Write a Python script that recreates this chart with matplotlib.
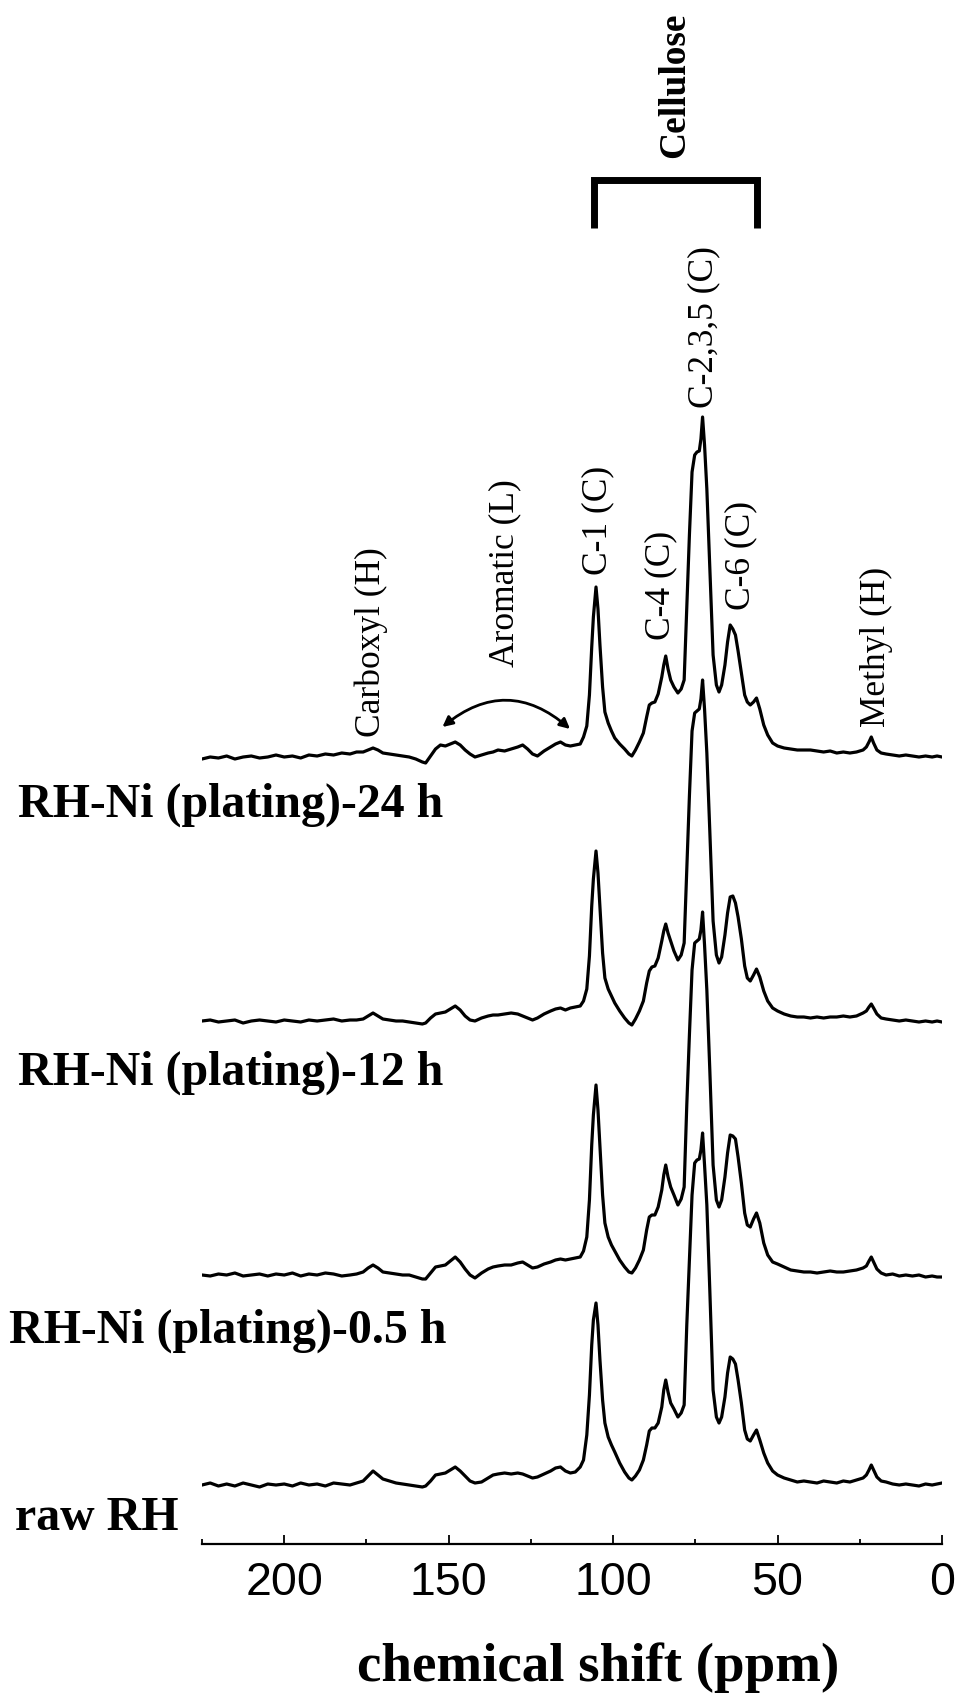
import matplotlib
matplotlib.use('Agg')
import matplotlib.pyplot as plt
import numpy as np

# chemical shift grid (ppm)
shift_ppm = [
    225, 222.5, 220, 217.5, 215, 212.5, 210, 207.5, 205, 202.5,
    200, 197.5, 195, 192.5, 190, 187.5, 185, 182.5, 180, 178,
    176, 174.5, 173, 171.5, 170, 168, 166, 164, 162, 160,
    158, 157, 155.5, 154, 152.5, 151, 149.5, 148, 146.5, 145,
    143.5, 142, 140, 138, 136.5, 135, 133, 131, 129, 127.5,
    126, 124.5, 123, 121, 119, 117.5, 116, 114.5, 113, 111.5,
    110, 109, 108, 107.2, 106.5, 106, 105.2, 104.6, 104, 103.2,
    102.5, 101.5, 100.5, 99.5, 98, 96.5, 95.2, 94.3, 93.2, 92,
    90.8, 89.8, 89, 88.2, 87.3, 86.3, 85.2, 84.6, 84, 83.3,
    82.5, 81.5, 80.3, 79.3, 78.4, 77.6, 76.8, 76, 75.2, 74.5,
    73.8, 73.3, 72.8, 72.2, 71.5, 70.6, 69.6, 68.6, 67.8, 67,
    66, 65.2, 64.4, 63.6, 62.8, 62, 61, 60, 59.2, 58.3,
    57.3, 56.4, 55.4, 54.2, 53, 51.5, 50, 48, 46, 44,
    42, 40, 38, 36, 34, 32, 30, 28, 26, 24,
    23, 22.2, 21.5, 20.8, 19.8, 18.5, 17, 15, 13, 11,
    9, 7, 5, 3, 1.5, 0,
]

# intensities (a.u.)
raw_rh = [
    0, 2, -1, 1, -1, 2, 0, -2, 1, 0,
    1, -1, 2, 0, 1, -1, 2, 1, 0, 2,
    4, 9, 14, 10, 6, 4, 2, 1, 0, -1,
    -2, -1, 4, 10, 11, 12, 15, 18, 14, 9,
    4, 2, 3, 7, 10, 11, 12, 11, 12, 11,
    9, 7, 8, 11, 14, 17, 18, 14, 12, 13,
    18, 25, 50, 90, 140, 165, 182, 160, 125, 85,
    62, 48, 40, 33, 22, 13, 7, 5, 9, 15,
    25, 40, 54, 57, 57, 62, 78, 95, 105, 93,
    82, 76, 68, 72, 80, 160, 225, 290, 322, 325,
    326, 335, 352, 320, 280, 195, 95, 68, 62, 68,
    88, 112, 128, 126, 121, 105, 82, 55, 46, 44,
    50, 55, 45, 32, 22, 14, 10, 7, 5, 3,
    4, 3, 2, 4, 3, 2, 4, 3, 5, 7,
    10, 15, 20, 15, 8, 4, 3, 1, 0, 1,
    0, -1, 1, 0, 1, 2,
]

plating_05h = [
    0, -1, 1, 0, 2, -1, 0, 1, -1, 1,
    0, 2, -1, 1, 0, 2, 1, -1, 0, 1,
    3, 7, 10, 7, 3, 2, 1, 0, 0, -2,
    -4, -4, 2, 8, 9, 10, 14, 18, 13, 6,
    0, -3, 2, 6, 8, 9, 10, 10, 12, 13,
    10, 7, 8, 11, 13, 15, 16, 15, 16, 17,
    18, 24, 38, 75, 130, 160, 190, 165, 128, 80,
    52, 38, 30, 24, 15, 8, 3, 2, 7, 15,
    25, 45, 58, 60, 60, 68, 85, 100, 110, 98,
    88, 80, 70, 76, 88, 170, 240, 305, 332, 334,
    336, 345, 363, 330, 285, 205, 110, 75, 68, 75,
    98, 122, 140, 139, 136, 118, 92, 62, 50, 48,
    56, 62, 52, 32, 20, 13, 11, 8, 5, 4,
    3, 3, 2, 3, 4, 3, 3, 4, 5, 7,
    9, 14, 18, 13, 6, 2, 0, 1, -1, 0,
    -1, 0, -2, -1, -2, -2,
]

plating_12h = [
    0, 1, -1, 0, 1, -2, 0, 1, 0, -1,
    1, 0, -1, 1, 0, 1, 2, 0, 1, 1,
    2, 5, 8, 5, 2, 1, 0, 0, -1, -2,
    -3, -2, 3, 7, 8, 9, 12, 15, 11, 5,
    1, 0, 3, 5, 6, 6, 7, 8, 7, 5,
    3, 1, 3, 7, 10, 12, 13, 11, 13, 14,
    15, 20, 32, 65, 115, 142, 170, 148, 113, 68,
    43, 32, 25, 18, 10, 3, -2, -4, 2, 10,
    20, 38, 50, 54, 55, 63, 80, 90, 97, 88,
    80, 70, 61, 66, 78, 150, 225, 290, 308, 310,
    312, 322, 341, 312, 268, 190, 100, 66, 58, 64,
    86, 108, 124, 125, 118, 104, 82, 55, 43, 40,
    46, 52, 44, 30, 20, 13, 10, 7, 5, 4,
    4, 3, 4, 3, 4, 4, 5, 4, 5, 8,
    10, 14, 17, 13, 7, 3, 2, 1, 0, 1,
    0, -1, 0, -1, 0, -1,
]

plating_24h = [
    -2, 0, -1, 1, -2, 0, 1, -1, 0, 2,
    0, 1, -1, 2, 1, 3, 2, 4, 3, 5,
    5, 7, 9, 7, 4, 3, 2, 1, 0, -2,
    -5, -6, 1, 8, 12, 11, 13, 15, 12, 7,
    3, 0, 2, 4, 5, 7, 6, 8, 10, 12,
    8, 3, 1, 6, 10, 13, 15, 12, 11, 12,
    13, 20, 31, 62, 110, 140, 170, 148, 112, 70,
    45, 34, 26, 19, 13, 8, 3, 1, 7, 15,
    24, 40, 52, 54, 55, 63, 80, 92, 101, 88,
    77, 70, 64, 68, 77, 150, 222, 285, 302, 305,
    306, 318, 340, 312, 268, 190, 102, 72, 65, 72,
    92, 115, 132, 128, 122, 106, 84, 62, 55, 52,
    55, 59, 48, 32, 22, 14, 11, 9, 8, 7,
    7, 7, 6, 5, 6, 4, 5, 4, 5, 7,
    10, 15, 20, 14, 7, 4, 3, 2, 1, 2,
    1, 0, 1, 0, 1, 0,
]

sample_names = ['raw RH', 'RH-Ni (plating)-0.5 h',
                'RH-Ni (plating)-12 h', 'RH-Ni (plating)-24 h']
stack_offsets = [59, 269, 523, 787]

peak_names = ['Carboxyl (H)', 'Aromatic (L)', 'C-1 (C)', 'C-4 (C)',
              'C-2,3,5 (C)', 'C-6 (C)', 'Methyl (H)']
peak_ppm = [173.6, 132.9, 104.6, 85.4, 72.4, 61.1, 19.8]

W, H = 961, 1697
fig = plt.figure(figsize=(W / 100, H / 100), dpi=100)
ax = fig.add_axes([202 / W, (H - 1544) / H, 740 / W, 1544 / H])

x = np.array(shift_ppm)
for y, off in zip([raw_rh, plating_05h, plating_12h, plating_24h], stack_offsets):
    ax.plot(x, np.array(y) + off, color='k', lw=2.3, solid_joinstyle='round')

ax.set_xlim(225, 0)
ax.set_ylim(0, 1544)
for s in ['left', 'right', 'top']:
    ax.spines[s].set_visible(False)
ax.spines['bottom'].set_linewidth(1.6)
ax.set_yticks([])
ax.set_xticks([200, 150, 100, 50, 0])
ax.set_xticks([225, 175, 125, 75, 25], minor=True)
ax.tick_params(axis='x', which='major', direction='in', length=6.5, width=1.3,
               labelsize=33.5, pad=12)
ax.tick_params(axis='x', which='minor', direction='in', length=3.6, width=1.3)
for lab in ax.get_xticklabels():
    lab.set_fontfamily('Liberation Sans')

# peak assignments (rotated)
label_bottoms = [807, 877, 969, 904, 1136, 934, 817]
for name, ppm, yb in zip(peak_names, peak_ppm, label_bottoms):
    ax.text(ppm, yb, name, rotation=90, ha='center', va='bottom',
            fontsize=25.5, family='Liberation Serif', clip_on=False)

# aromatic curved double arrow
ax.annotate('', xy=(113.1, 815), xytext=(151.9, 817),
            arrowprops=dict(arrowstyle='<|-|>,head_length=0.6,head_width=0.3',
                            connectionstyle='arc3,rad=-0.42', lw=2, color='k',
                            shrinkA=0, shrinkB=0))

# cellulose bracket
ax.plot([105.7, 105.7, 56.1, 56.1], [1316, 1364, 1364, 1316], color='k',
        lw=5, solid_joinstyle='miter', solid_capstyle='butt', clip_on=False)
ax.text(81.2, 1386, 'Cellulose', rotation=90, ha='center', va='bottom',
        fontsize=27, fontweight='bold', family='Liberation Serif', clip_on=False)

# sample names
name_x = [15, 9, 18, 18]
name_base = [1530, 1343, 1085, 817]
for name, nx, ny in zip(sample_names, name_x, name_base):
    fig.text(nx / W, 1 - ny / H, name, ha='left', va='baseline', fontsize=34.5,
             fontweight='bold', family='Liberation Serif')

fig.text(598 / W, 1 - 1681 / H, 'chemical shift (ppm)', ha='center',
         va='baseline', fontsize=39.5, fontweight='bold',
         family='Liberation Serif')

fig.savefig('out.png', dpi=100)
